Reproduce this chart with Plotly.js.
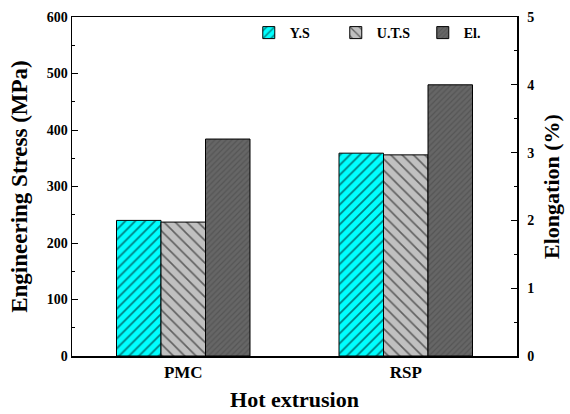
<!DOCTYPE html>
<html><head><meta charset="utf-8">
<script src="https://cdn.plot.ly/plotly-3.0.1.min.js"></script>
<style>html,body{margin:0;padding:0;background:#fff}</style>
</head><body><div id="chart" style="width:570px;height:414px"></div>
<script>
var categories = ["PMC", "RSP"];
var ysValues = [240, 359];      // Y.S (MPa)
var utsValues = [237, 356];     // U.T.S (MPa)
var elValues = [3.2, 4.0];      // El. (%)
var seriesNames = ["Y.S", "U.T.S", "El."];

var fam = "Liberation Serif";
function f(size) { return {family: fam, size: size, color: "#000", weight: "bold"}; }
var traces = [
  {type: "bar", x: categories, y: ysValues, name: seriesNames[0], yaxis: "y",
   offset: -0.3, width: 0.2,
   marker: {color: "#00FFFF", line: {color: "#000", width: 1},
            pattern: {shape: "/", fillmode: "overlay", fgcolor: "#000", size: 7, solidity: 0.25}}},
  {type: "bar", x: categories, y: utsValues, name: seriesNames[1], yaxis: "y",
   offset: -0.1, width: 0.2,
   marker: {color: "#C0C0C0", line: {color: "#000", width: 1},
            pattern: {shape: "\\", fillmode: "overlay", fgcolor: "#000", size: 8, solidity: 0.2}}},
  {type: "bar", x: categories, y: elValues, name: seriesNames[2], yaxis: "y2",
   offset: 0.1, width: 0.2,
   marker: {color: "#666666", line: {color: "#000", width: 1},
            pattern: {shape: "/", fillmode: "overlay", fgcolor: "#444", size: 4, solidity: 0.3}}}
];
var layout = {
  width: 570, height: 414,
  margin: {l: 72, r: 53, t: 17, b: 58},
  paper_bgcolor: "#fff", plot_bgcolor: "#fff",
  font: {family: fam},
  showlegend: true,
  legend: {orientation: "h", x: 0.395, xanchor: "left", y: 1.0, yanchor: "top",
           font: f(14), bgcolor: "rgba(0,0,0,0)", itemwidth: 32, entrywidth: 40},
  xaxis: {range: [-0.5, 1.5], showline: true, linecolor: "#000", linewidth: 1.5, mirror: true,
          ticks: "", showgrid: false, zeroline: false,
          tickfont: f(17),
          title: {text: "Hot extrusion", font: f(22), standoff: 10}},
  yaxis: {range: [0, 600], dtick: 100, showline: true, linecolor: "#000", linewidth: 1.5,
          ticks: "inside", ticklen: 6, tickcolor: "#000", showgrid: false, zeroline: false,
          minor: {dtick: 50, ticks: "inside", ticklen: 3, tickcolor: "#000"},
          tickfont: f(14),
          title: {text: "Engineering Stress (MPa)", font: f(23), standoff: 12}},
  yaxis2: {range: [0, 5], dtick: 1, overlaying: "y", side: "right", showline: true, linecolor: "#000", linewidth: 1.5,
           ticks: "inside", ticklen: 6, tickcolor: "#000", showgrid: false, zeroline: false,
           minor: {dtick: 0.5, ticks: "inside", ticklen: 3, tickcolor: "#000"},
           tickfont: f(14), ticklabelstandoff: 6,
           title: {text: "Elongation (%)", font: f(22), standoff: 10}}
};
Plotly.newPlot("chart", traces, layout, {displayModeBar: false, staticPlot: true});
</script></body></html>
